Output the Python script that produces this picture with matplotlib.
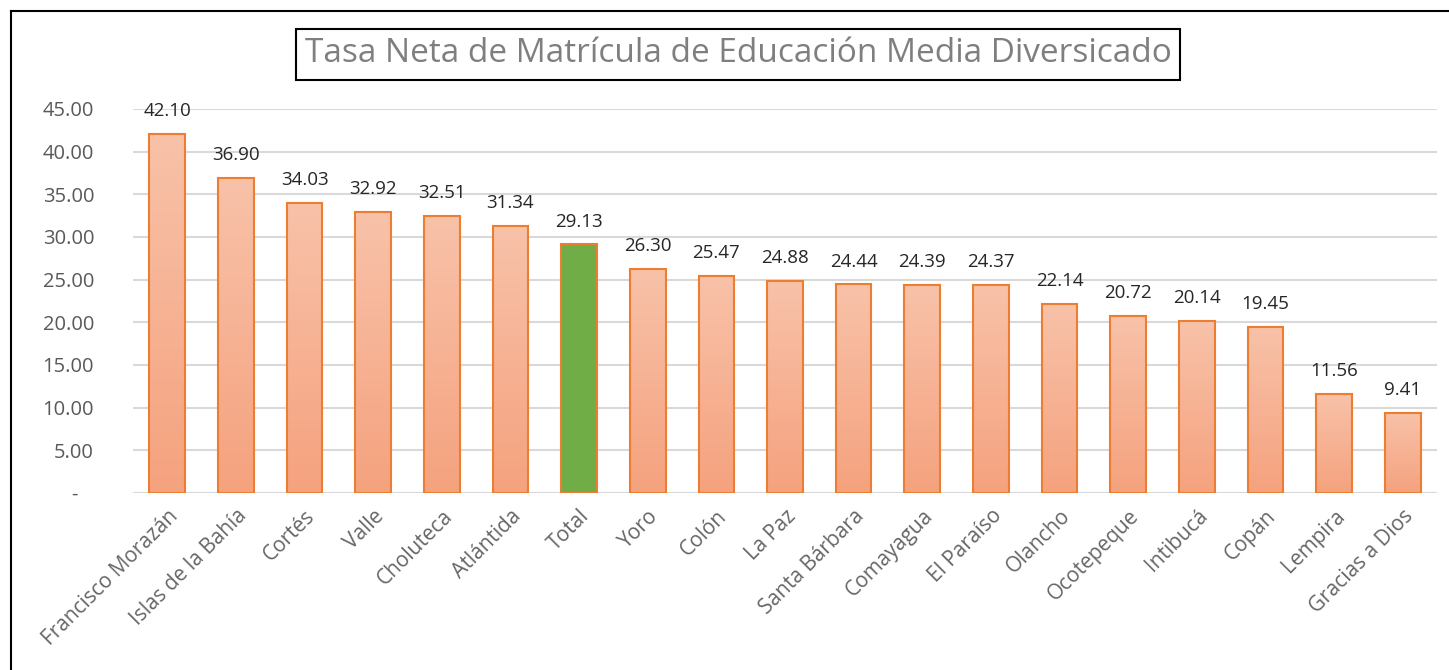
import matplotlib
matplotlib.use("Agg")
import matplotlib.pyplot as plt
import numpy as np
from matplotlib.colors import LinearSegmentedColormap

categories = ["Francisco Morazán", "Islas de la Bahía", "Cortés", "Valle", "Choluteca",
              "Atlántida", "Total", "Yoro", "Colón", "La Paz", "Santa Bárbara", "Comayagua",
              "El Paraíso", "Olancho", "Ocotepeque", "Intibucá", "Copán", "Lempira",
              "Gracias a Dios"]
values = [42.10, 36.90, 34.03, 32.92, 32.51, 31.34, 29.13, 26.30, 25.47, 24.88, 24.44,
          24.39, 24.37, 22.14, 20.72, 20.14, 19.45, 11.56, 9.41]
yticks = [0, 5, 10, 15, 20, 25, 30, 35, 40, 45]
title = "Tasa Neta de Matrícula de Educación Media Diversicado"

plt.rcParams['font.family'] = ['Open Sans', 'DejaVu Sans']

W, H = 1449, 670
fig = plt.figure(figsize=(W / 100, H / 100), dpi=100)
ax = fig.add_axes([133 / W, 1 - 493 / H, (1437 - 133) / W, (493 - 109) / H])

x = np.arange(len(categories))
bw = 0.52
cmap = LinearSegmentedColormap.from_list("g", ["#F5A27E", "#F8C2A9"])
grad = np.linspace(0, 1, 256).reshape(-1, 1)
for xi, v, c in zip(x, values, categories):
    if c == "Total":
        ax.bar(xi, v, width=bw, color="#70AD47", edgecolor="#ED7D31", linewidth=1.5, zorder=3)
    else:
        ax.imshow(grad, cmap=cmap, origin="lower", aspect="auto",
                  extent=[xi - bw / 2, xi + bw / 2, 0, v], zorder=2)
        ax.bar(xi, v, width=bw, facecolor="none", edgecolor="#ED7D31", linewidth=1.5, zorder=3)
    ax.annotate(f"{v:.2f}", (xi, v), xytext=(0, 16.5), textcoords="offset points",
                ha="center", va="center", fontsize=13.5, color="#262626")

ax.set_xlim(-0.5, len(categories) - 0.5)
ax.set_ylim(0, 45)
ax.set_yticks(yticks)
ax.set_yticklabels(["-   " if t == 0 else f"{t:.2f}" for t in yticks], fontsize=14.5, color="#595959")
ax.set_xticks(x)
ax.set_xticklabels(categories, rotation=45, ha="right", rotation_mode="anchor",
                   fontsize=15, color="#666666")
ax.tick_params(axis="x", length=0, pad=9)
ax.tick_params(axis="y", length=0, pad=28)
ax.yaxis.grid(True, color="#D9D9D9", linewidth=1.5, zorder=0)
ax.set_axisbelow(True)
for s in ax.spines.values():
    s.set_visible(False)
ax.axhline(0, color="#D9D9D9", linewidth=1.5, zorder=1)

fig.text(738 / W, 1 - 54 / H, title, ha="center", va="center", fontsize=24, color="#7F7F7F",
         bbox=dict(boxstyle="square,pad=0.27", facecolor="white", edgecolor="black", linewidth=1.5))

# outer border (left and top visible)
fig.add_artist(plt.Line2D([11 / W, 11 / W], [0, 1 - 11 / H], color="black", linewidth=1.5))
fig.add_artist(plt.Line2D([11 / W, 1], [1 - 11 / H, 1 - 11 / H], color="black", linewidth=1.5))

fig.savefig("out.png", dpi=100)
